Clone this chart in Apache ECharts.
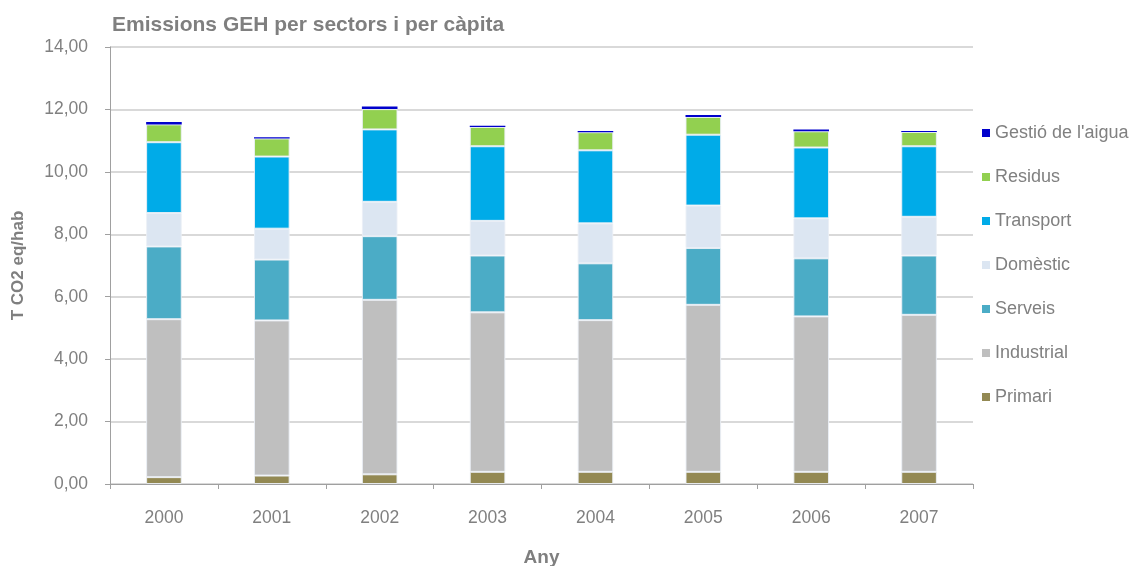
<!DOCTYPE html>
<html>
<head>
<meta charset="utf-8">
<script src="https://cdn.jsdelivr.net/npm/echarts@6/dist/echarts.min.js"></script>
<style>html,body{margin:0;padding:0;background:#fff}#c{width:1130px;height:566px}</style>
</head>
<body>
<div id="c"></div>
<script>
const years = ['2000','2001','2002','2003','2004','2005','2006','2007'];
const primari    = [0.22, 0.27, 0.31, 0.39, 0.39, 0.39, 0.39, 0.39];
const industrial = [5.06, 4.97, 5.59, 5.11, 4.86, 5.35, 4.98, 5.03];
const serveis    = [2.33, 1.95, 2.04, 1.82, 1.82, 1.82, 1.86, 1.90];
const domestic   = [1.07, 0.99, 1.10, 1.11, 1.28, 1.36, 1.28, 1.24];
const transport  = [2.27, 2.31, 2.32, 2.39, 2.34, 2.27, 2.27, 2.26];
const residus    = [0.57, 0.58, 0.65, 0.62, 0.58, 0.57, 0.52, 0.46];
const aigua      = [0.08, 0.04, 0.08, 0.04, 0.04, 0.06, 0.06, 0.03];
const yTicks = [0, 2, 4, 6, 8, 10, 12, 14];

const seriesDefs = [
  ['Primari', primari, '#938953'],
  ['Industrial', industrial, '#bfbfbf'],
  ['Serveis', serveis, '#4bacc6'],
  ['Domèstic', domestic, '#dce6f2'],
  ['Transport', transport, '#00abe8'],
  ['Residus', residus, '#92d050'],
  ["Gestió de l'aigua", aigua, '#0000cc']
];

const chart = echarts.init(document.getElementById('c'));
const font = 'Liberation Sans, Arial, sans-serif';
chart.setOption({
  animation: false,
  title: {
    text: 'Emissions GEH per sectors i per càpita',
    left: 107, top: 10,
    textStyle: {fontFamily: font, fontSize: 21, fontWeight: 'bold', color: '#7f7f7f'}
  },
  legend: {
    orient: 'vertical',
    left: 977, top: 118,
    itemWidth: 8, itemHeight: 8, itemGap: 24,
    icon: 'rect',
    itemStyle: {borderWidth: 0},
    data: seriesDefs.map(s => s[0]).reverse(),
    textStyle: {fontFamily: font, fontSize: 18, color: '#808080', lineHeight: 20, padding: [0,0,0,0]}
  },
  grid: {left: 110, right: 157, top: 47, bottom: 82, outerBoundsMode: 'none', containLabel: false},
  xAxis: {
    type: 'category',
    data: years,
    name: 'Any',
    nameLocation: 'middle',
    nameGap: 64,
    nameTextStyle: {fontFamily: font, fontSize: 19, fontWeight: 'bold', color: '#7f7f7f'},
    axisLine: {lineStyle: {color: '#a0a0a0'}},
    axisTick: {show: true, length: 5, lineStyle: {color: '#a0a0a0'}},
    axisLabel: {fontFamily: font, fontSize: 17.5, color: '#808080', margin: 25}
  },
  yAxis: {
    type: 'value',
    min: yTicks[0], max: yTicks[yTicks.length - 1], interval: 2,
    name: 'T CO2 eq/hab',
    nameLocation: 'middle',
    nameGap: 83,
    nameTextStyle: {fontFamily: font, fontSize: 17, fontWeight: 'bold', color: '#7f7f7f'},
    axisLine: {show: true, lineStyle: {color: '#a0a0a0'}},
    axisTick: {show: true, length: 5, lineStyle: {color: '#a0a0a0'}},
    axisLabel: {fontFamily: font, fontSize: 17.5, color: '#808080', margin: 22,
      formatter: v => v.toFixed(2).replace('.', ',')},
    splitLine: {lineStyle: {color: '#cccccc', width: 1.5}}
  },
  series: seriesDefs.map(s => ({
    name: s[0], type: 'bar', stack: 'total', data: s[1],
    barWidth: '33%',
    itemStyle: {color: s[2], borderColor: s[0] === "Gestió de l'aigua" ? s[2] : 'rgba(235,240,246,0.9)', borderWidth: s[0] === "Gestió de l'aigua" ? 0 : 1}
  }))
});
</script>
</body>
</html>
